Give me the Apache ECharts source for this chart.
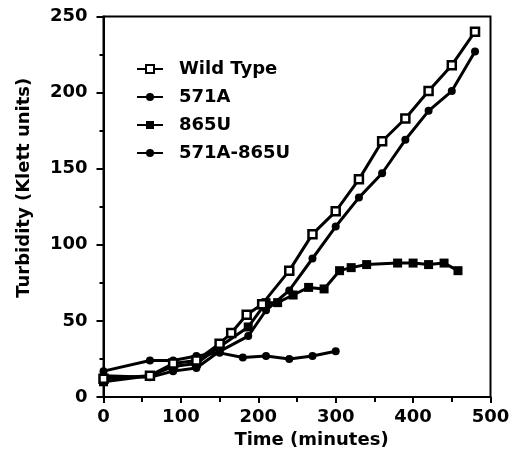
<!DOCTYPE html>
<html>
<head>
<meta charset="utf-8">
<script src="https://cdn.jsdelivr.net/npm/echarts@6/dist/echarts.min.js"></script>
<style>html,body{margin:0;padding:0;background:#fff}#c{width:513px;height:459px}</style>
</head>
<body>
<div id="c"></div>
<script>
const seriesNames = ['Wild Type', '571A', '865U', '571A-865U'];
const wtTime = [0, 60, 90, 120, 150, 165, 185, 205, 240, 270, 300, 330, 360, 390, 420, 450, 480];
const wtValue = [12, 14, 22, 24, 35, 42, 54, 61, 83, 107, 122, 143, 168, 183, 201, 218, 240];
const a571Time = [0, 60, 90, 120, 150, 187, 210, 240, 270, 300, 330, 360, 390, 420, 450, 480];
const a571Value = [14, 13, 17, 19, 30, 40, 57, 70, 91, 112, 131, 147, 169, 188, 201, 227];
const u865Time = [0, 60, 90, 120, 150, 187, 210, 225, 245, 265, 285, 305, 320, 340, 380, 400, 420, 440, 458];
const u865Value = [10, 14, 20, 22, 33, 46, 62, 62, 67, 72, 71, 83, 85, 87, 88, 88, 87, 88, 83];
const dblTime = [0, 60, 90, 120, 150, 180, 210, 240, 270, 300];
const dblValue = [17, 24, 24, 27, 29, 26, 27, 25, 27, 30];
const xTicks = [0, 100, 200, 300, 400, 500];
const yTicks = [0, 50, 100, 150, 200, 250];

const pair = (t, v) => t.map((x, i) => [x, v[i]]);
const FONT = 'DejaVu Sans';
const base = {
  type: 'line', showSymbol: true, animation: false,
  lineStyle: { color: '#000', width: 3 },
  emphasis: { disabled: true }
};
const chart = echarts.init(document.getElementById('c'));
chart.setOption({
  animation: false,
  backgroundColor: '#fff',
  grid: { left: 103.5, right: 22.5, top: 16.5, bottom: 62, show: true, borderColor: '#000', borderWidth: 2 },
  legend: {
    left: 131, top: 55, orient: 'vertical', itemWidth: 26, itemHeight: 10, itemGap: 10,
    data: seriesNames,
    textStyle: { fontFamily: FONT, fontWeight: 'bold', fontSize: 18, color: '#000', lineHeight: 18, padding: [0, 0, 0, 11] }
  },
  xAxis: {
    type: 'value', min: xTicks[0], max: xTicks[xTicks.length - 1], interval: 100,
    name: 'Time (minutes)', nameLocation: 'middle', nameGap: 25,
    nameTextStyle: { fontFamily: FONT, fontWeight: 'bold', fontSize: 18, color: '#000', padding: [0, 0, 0, 29] },
    axisLine: { lineStyle: { color: '#000', width: 2 } },
    axisTick: { show: true, inside: false, length: 6, lineStyle: { color: '#000', width: 2 } },
    minorTick: { show: true, splitNumber: 2, length: 5, lineStyle: { color: '#000', width: 2 } },
    splitLine: { show: false },
    axisLabel: { fontFamily: FONT, fontWeight: 'bold', fontSize: 18, color: '#000', margin: 11 }
  },
  yAxis: {
    type: 'value', min: yTicks[0], max: yTicks[yTicks.length - 1], interval: 50,
    name: 'Turbidity (Klett units)', nameLocation: 'middle', nameGap: 70,
    nameTextStyle: { fontFamily: FONT, fontWeight: 'bold', fontSize: 18, color: '#000', padding: [0, 0, 0, 38] },
    axisLine: { lineStyle: { color: '#000', width: 2 } },
    axisTick: { show: true, inside: false, length: 7, lineStyle: { color: '#000', width: 2 } },
    minorTick: { show: true, splitNumber: 2, length: 4, lineStyle: { color: '#000', width: 2 } },
    splitLine: { show: false },
    axisLabel: { fontFamily: FONT, fontWeight: 'bold', fontSize: 18, color: '#000', margin: 16 }
  },
  series: [
    Object.assign({}, base, { name: seriesNames[0], data: pair(wtTime, wtValue), symbol: 'rect', symbolSize: 8,
      itemStyle: { color: '#fff', borderColor: '#000', borderWidth: 2.5 }, z: 5 }),
    Object.assign({}, base, { name: seriesNames[1], data: pair(a571Time, a571Value), symbol: 'circle', symbolSize: 8,
      itemStyle: { color: '#000' }, z: 4 }),
    Object.assign({}, base, { name: seriesNames[2], data: pair(u865Time, u865Value), symbol: 'rect', symbolSize: 9,
      itemStyle: { color: '#000' }, z: 3 }),
    Object.assign({}, base, { name: seriesNames[3], data: pair(dblTime, dblValue), symbol: 'circle', symbolSize: 8,
      itemStyle: { color: '#000' }, z: 2 })
  ]
});
</script>
</body>
</html>
